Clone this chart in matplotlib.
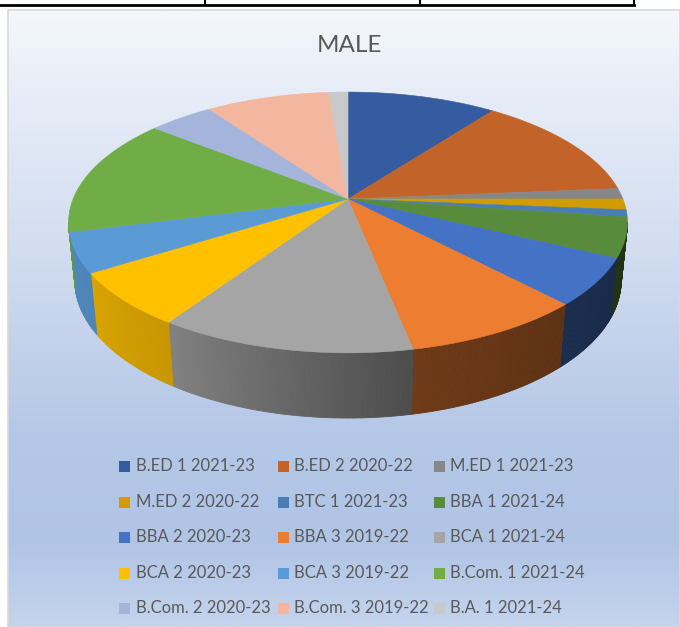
# male_pie_plot.py
# 男子学生のコース別人数を3D風の円グラフで描くスクリプト

import numpy as np
import matplotlib.pyplot as plt
from matplotlib.patches import Polygon, Rectangle

# コース名と人数（図から読み取った概算値）
courses = ["B.ED 1 2021-23", "B.ED 2 2020-22", "M.ED 1 2021-23",
           "M.ED 2 2020-22", "BTC 1 2021-23", "BBA 1 2021-24",
           "BBA 2 2020-23", "BBA 3 2019-22", "BCA 1 2021-24",
           "BCA 2 2020-23", "BCA 3 2019-22", "B.Com. 1 2021-24",
           "B.Com. 2 2020-23", "B.Com. 3 2019-22", "B.A. 1 2021-24"]
students = [23, 30, 3, 3, 2, 11, 13, 20, 28, 15, 11, 33, 10, 19, 3]

colors = ["#355ca0", "#c2642a", "#878787", "#d09c00", "#4a7eb3",
          "#588b3b", "#4472c4", "#ed7d31", "#a5a5a5", "#ffc000",
          "#5b9bd5", "#70ad47", "#a4b4da", "#f3b69e", "#c9c9c9"]

W, H = 680, 627
fig = plt.figure(figsize=(W / 100, H / 100), dpi=100)
ax = fig.add_axes([0, 0, 1, 1])
ax.set_xlim(0, W)
ax.set_ylim(H, 0)
ax.axis("off")

# 背景グラデーション
stops_y = [10, 80, 250, 430, 540, 627]
stops_c = np.array([[245, 247, 252], [233, 238, 248], [210, 221, 240],
                    [181, 200, 231], [176, 196, 230], [196, 212, 237]]) / 255
yy = np.linspace(10, H, 400)
grad = np.stack([np.interp(yy, stops_y, stops_c[:, k]) for k in range(3)], axis=-1)
ax.imshow(grad[:, None, :], extent=[8, W, H, 10], aspect="auto", zorder=0)
ax.add_patch(Rectangle((8, 10), W - 8, H - 10, fill=False, ec="#d9d9d9", lw=1.2, zorder=1))

# 上部の表の罫線
ax.plot([0, 634], [5, 5], color="black", lw=2, zorder=2)
for xv in [205, 420, 634]:
    ax.plot([xv, xv], [0, 5], color="black", lw=1.5, zorder=2)

# 透視投影のパラメータ
CX, CY, F, D = 348, 199, 1358, 4.94
S, C = 0.459, 0.888
THICK = 0.239


def project(theta, z):
    u = np.sin(theta)
    v = np.cos(theta)
    xc = u
    yc = v * S + z * C
    zc = D + v * C - z * S
    return CX + F * xc / zc, CY - F * yc / zc


def shade(theta):
    deg = np.degrees(theta)
    return np.interp(deg, [100, 140, 170, 213, 240, 262],
                     [0.36, 0.40, 0.47, 0.78, 0.86, 0.88])


vals = np.array(students, dtype=float)
edges = np.concatenate([[0], np.cumsum(vals)]) / vals.sum() * 2 * np.pi

# 側面（見える範囲）
ts = np.arccos(-C / D)
vis_lo, vis_hi = ts, 2 * np.pi - ts
for i, col in enumerate(colors):
    a0, a1 = max(edges[i], vis_lo), min(edges[i + 1], vis_hi)
    if a1 <= a0:
        continue
    base = np.array(plt.matplotlib.colors.to_rgb(col))
    n = max(2, int(np.degrees(a1 - a0) * 2))
    th = np.linspace(a0, a1, n + 1)
    for j in range(n):
        ta, tb = th[j], th[j + 1]
        xa, ya = project(ta, 0)
        xb, yb = project(tb, 0)
        xa2, ya2 = project(ta, -THICK)
        xb2, yb2 = project(tb, -THICK)
        fc = np.clip(base * shade((ta + tb) / 2), 0, 1)
        ax.add_patch(Polygon([(xa, ya), (xb, yb), (xb2, yb2), (xa2, ya2)],
                             closed=True, fc=fc, ec=fc, lw=0.6, zorder=3))

# 上面
for i, col in enumerate(colors):
    th = np.linspace(edges[i], edges[i + 1], 80)
    xs, ys = project(th, 0)
    pts = [(CX, CY)] + list(zip(xs, ys))
    ax.add_patch(Polygon(pts, closed=True, fc=col, ec=col, lw=0.4, zorder=4))

# タイトル
ax.text(349, 46, "MALE", ha="center", va="center", fontsize=17.5,
        family="Lato", color="#595959", zorder=5)

# 凡例
row_y = [466, 502, 537, 573, 608]
col_x = [124.5, 283, 439.5]
for i, (name, col) in enumerate(zip(courses, colors)):
    r, c = divmod(i, 3)
    ax.add_patch(Rectangle((col_x[c] - 5.5, row_y[r] - 5.5), 11, 11,
                           fc=col, ec="none", zorder=5))
    ax.text(col_x[c] + 11, row_y[r], name, ha="left", va="center",
            fontsize=12, family="Lato", color="#595959", zorder=5)

fig.savefig("out.png", dpi=100)
